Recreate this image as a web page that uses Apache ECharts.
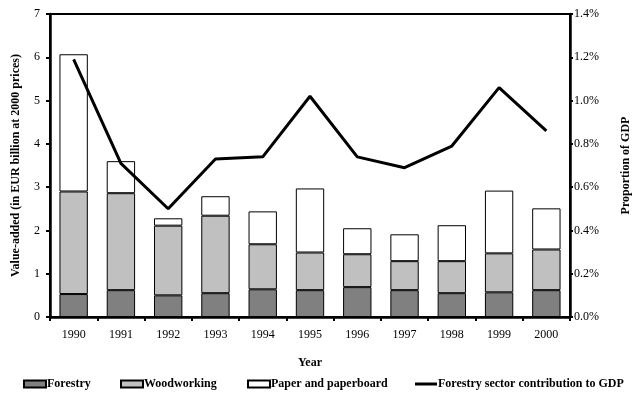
<!DOCTYPE html>
<html><head><meta charset="utf-8">
<script src="https://cdn.jsdelivr.net/npm/echarts@6/dist/echarts.min.js"></script>
<style>html,body{margin:0;padding:0;background:#fff}#c{width:642px;height:394px}</style>
</head><body><div id="c"></div>
<script>
var years = ['1990','1991','1992','1993','1994','1995','1996','1997','1998','1999','2000'];
var forestry = [0.53,0.62,0.50,0.55,0.64,0.62,0.69,0.62,0.55,0.57,0.62];
var woodworking = [2.37,2.24,1.61,1.79,1.04,0.87,0.76,0.67,0.74,0.90,0.94];
var paper = [3.17,0.74,0.17,0.45,0.76,1.48,0.60,0.62,0.83,1.45,0.95];
var gdpShare = [1.19,0.71,0.50,0.73,0.74,1.02,0.74,0.69,0.79,1.06,0.86];
var leftTicks = {min:0, max:7, interval:1};
var rightTicks = {min:0, max:1.4, interval:0.2};

var F = 'Liberation Serif';
var chart = echarts.init(document.getElementById('c'), null, {renderer:'canvas'});
function lg(name, left, extra){
  return Object.assign({
    data:[name], left:left, top:373, itemWidth:22, itemHeight:7, icon:'rect',
    textStyle:{fontFamily:F, fontSize:12, fontWeight:'bold', color:'#000', padding:[0,0,0,-4]},
    selectedMode:false
  }, extra||{});
}
chart.setOption({
  animation:false,
  grid:{left:50, right:72, top:14, bottom:77, containLabel:false, outerBoundsMode:'none',
        show:true, borderColor:'#000', borderWidth:2, backgroundColor:'transparent'},
  legend:[
    lg('Forestry', 18),
    lg('Woodworking', 115),
    lg('Paper and paperboard', 242),
    lg('Forestry sector contribution to GDP', 410, {itemHeight:3, itemStyle:{color:'#000', borderWidth:0}})
  ],
  xAxis:{
    type:'category', data:years, boundaryGap:true,
    name:'Year', nameLocation:'middle', nameGap:40,
    nameTextStyle:{fontFamily:F, fontSize:12, fontWeight:'bold', color:'#000'},
    axisLine:{lineStyle:{color:'#000', width:2.5}},
    axisTick:{show:true, length:4, inside:false, alignWithLabel:false, lineStyle:{color:'#000', width:2}},
    axisLabel:{fontFamily:F, fontSize:12, color:'#000', margin:12},
    splitLine:{show:false}
  },
  yAxis:[{
    type:'value', min:leftTicks.min, max:leftTicks.max, interval:leftTicks.interval,
    name:'Value-added (in EUR billion at 2000 prices)', nameLocation:'middle', nameGap:28, nameRotate:90,
    nameTextStyle:{fontFamily:F, fontSize:12, fontWeight:'bold', color:'#000'},
    axisLine:{show:true, lineStyle:{color:'#000', width:2.5}},
    axisTick:{show:true, length:4, inside:false, lineStyle:{color:'#000', width:2}},
    axisLabel:{fontFamily:F, fontSize:12, color:'#000', margin:10},
    splitLine:{show:false}
  },{
    type:'value', position:'right', min:rightTicks.min, max:rightTicks.max, interval:rightTicks.interval,
    name:'Proportion of GDP', nameLocation:'middle', nameGap:50, nameRotate:90,
    nameTextStyle:{fontFamily:F, fontSize:12, fontWeight:'bold', color:'#000'},
    axisLine:{show:true, lineStyle:{color:'#000', width:2.5}},
    axisTick:{show:true, length:3, inside:false, lineStyle:{color:'#000', width:2}},
    axisLabel:{fontFamily:F, fontSize:12, color:'#000', margin:4, formatter:function(v){return v.toFixed(1)+'%';}},
    splitLine:{show:false}
  }],
  series:[
    {name:'Forestry', type:'bar', stack:'v', data:forestry, barCategoryGap:'40%',
     itemStyle:{color:'#808080', borderColor:'#000', borderWidth:1}},
    {name:'Woodworking', type:'bar', stack:'v', data:woodworking,
     itemStyle:{color:'#c0c0c0', borderColor:'#000', borderWidth:1}},
    {name:'Paper and paperboard', type:'bar', stack:'v', data:paper,
     itemStyle:{color:'#fff', borderColor:'#000', borderWidth:1}},
    {name:'Forestry sector contribution to GDP', type:'line', yAxisIndex:1, data:gdpShare,
     symbol:'none', lineStyle:{color:'#000', width:3}, itemStyle:{color:'#000'}, z:5}
  ]
});
</script></body></html>
